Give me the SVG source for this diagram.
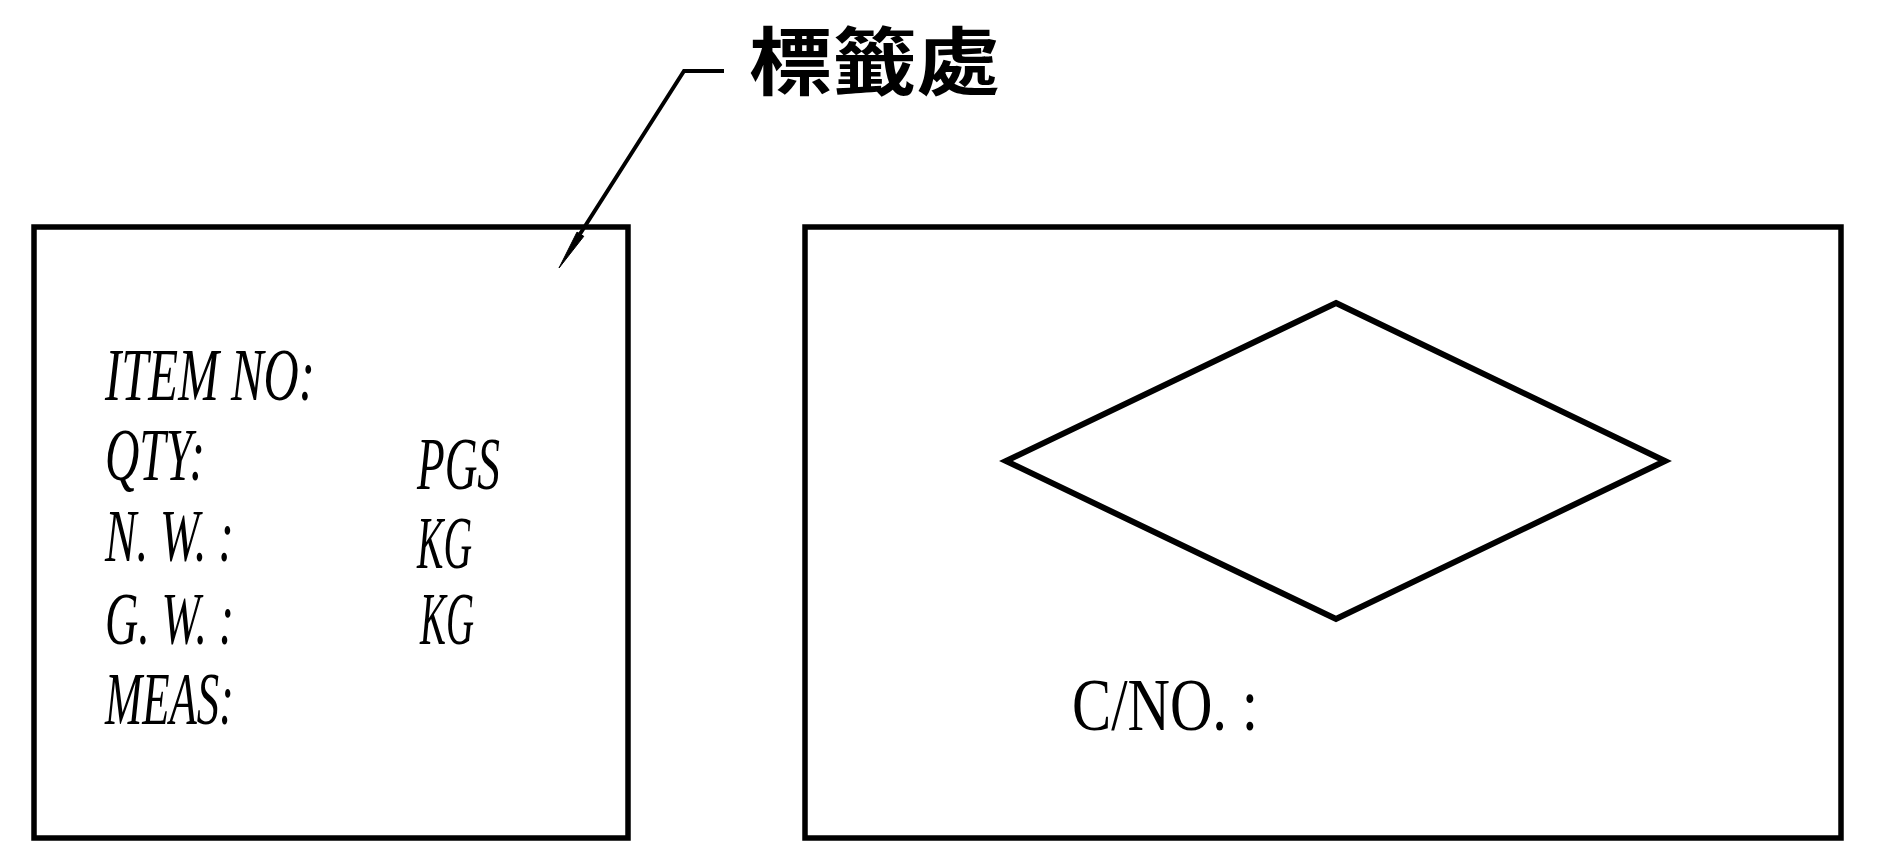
<svg xmlns="http://www.w3.org/2000/svg" width="1895" height="844" viewBox="0 0 1895 844">
<style>
.box{fill:none;stroke:#000;stroke-width:5.5}
.dia{fill:none;stroke:#000;stroke-width:6;stroke-linejoin:miter}
.lab{font-family:"Liberation Serif","Noto Serif CJK TC",serif;font-size:74px;fill:#000;font-style:italic}
.up{font-style:normal}
.cjk{font-family:"Noto Sans CJK TC","Noto Sans CJK SC",sans-serif;font-weight:bold;font-size:74px;fill:#000}
.lead{fill:none;stroke:#000;stroke-width:4;stroke-linejoin:miter}
</style>
<rect width="1895" height="844" fill="#fff"/>
<g id="label-panel">
<rect class="box" x="34" y="227" width="594" height="611"/>
<text class="lab" x="105" y="400" textLength="210" lengthAdjust="spacingAndGlyphs">ITEM NO:</text>
<text class="lab" x="105" y="480" textLength="100" lengthAdjust="spacingAndGlyphs">QTY:</text>
<text class="lab" x="417" y="489" textLength="83" lengthAdjust="spacingAndGlyphs">PGS</text>
<text class="lab" x="105" y="561" textLength="129" lengthAdjust="spacingAndGlyphs">N. W. :</text>
<text class="lab" x="417" y="568" textLength="55" lengthAdjust="spacingAndGlyphs">KG</text>
<text class="lab" x="105" y="644" textLength="129" lengthAdjust="spacingAndGlyphs">G. W. :</text>
<text class="lab" x="420" y="644" textLength="54" lengthAdjust="spacingAndGlyphs">KG</text>
<text class="lab" x="105" y="724" textLength="129" lengthAdjust="spacingAndGlyphs">MEAS:</text>
</g>
<g id="carton-panel">
<rect class="box" x="805" y="227" width="1036" height="611"/>
<polygon class="dia" points="1336,303 1665,461 1336,619 1006,461"/>
<text class="lab up" x="1072" y="730" font-size="88" textLength="186" lengthAdjust="spacingAndGlyphs">C/NO. :</text>
</g>
<g id="callout">
<text class="cjk" x="749" y="89" textLength="251" lengthAdjust="spacingAndGlyphs">標籤處</text>
</g>
<g id="connectors">
<polyline class="lead" points="724,71 684,71 580,234"/>
<polygon points="583.8,236.3 559,268 577,232.1" fill="#000" stroke="#000" stroke-width="1"/>
</g>
</svg>
